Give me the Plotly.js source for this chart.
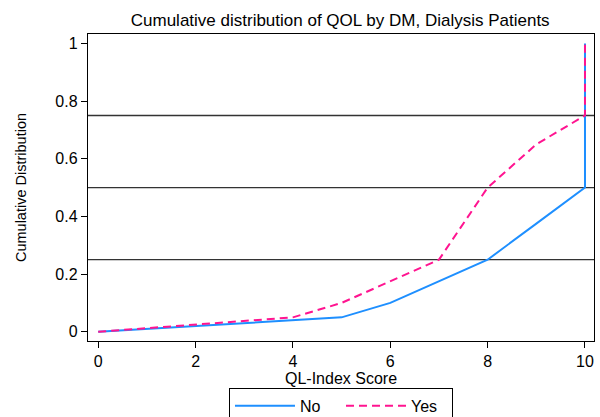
<!DOCTYPE html>
<html>
<head>
<meta charset="utf-8">
<script src="https://cdn.plot.ly/plotly-3.0.1.min.js"></script>
<style>html,body{margin:0;padding:0;background:#fff;}#chart{width:600px;height:417px;}</style>
</head>
<body>
<div id="chart"></div>
<script>
// Data
const qlScore = [0, 1, 2, 3, 4, 5, 6, 7, 8, 9, 10, 10];
const cumNo  = [0, 0.01, 0.02, 0.03, 0.04, 0.05, 0.10, 0.175, 0.25, 0.375, 0.50, 1.0];
const cumYes = [0, 0.0125, 0.025, 0.0375, 0.05, 0.10, 0.175, 0.25, 0.50, 0.65, 0.75, 1.0];
const seriesNames = ["No", "Yes"];
const refLines = [0.25, 0.5, 0.75];
const xTicks = [0, 2, 4, 6, 8, 10];
const yTicks = [0, 0.2, 0.4, 0.6, 0.8, 1];
const yTickLabels = ["0", "0.2", "0.4", "0.6", "0.8", "1"];

const font = {family: "Liberation Sans, Arial, sans-serif", color: "#000"};

const traces = [
  {x: qlScore, y: cumNo, name: seriesNames[0], type: "scatter", mode: "lines",
   line: {color: "#1E8FFF", width: 2}},
  {x: qlScore, y: cumYes, name: seriesNames[1], type: "scatter", mode: "lines",
   line: {color: "#FF1490", width: 2, dash: "8px,5px"}}
];

const shapes = refLines.map(v => ({
  type: "line", xref: "paper", x0: 0, x1: 1, yref: "y", y0: v, y1: v,
  line: {color: "#333", width: 1.3}, layer: "below"
}));

const layout = {
  width: 600, height: 417,
  margin: {l: 88, r: 6, t: 34, b: 76},
  paper_bgcolor: "#fff", plot_bgcolor: "#fff",
  font: Object.assign({size: 16}, font),
  title: {text: "Cumulative distribution of QOL by DM, Dialysis Patients",
          font: Object.assign({size: 17}, font), x: 0.567, xanchor: "center",
          yref: "container", y: 0.953, yanchor: "middle"},
  xaxis: {
    range: [-0.21, 10.185], tickvals: xTicks, ticks: "outside", ticklen: 6, tickcolor: "#000",
    showline: true, linecolor: "#000", linewidth: 1.2, mirror: true, showgrid: false, zeroline: false,
    tickfont: Object.assign({size: 16}, font), automargin: false,
    title: {text: "QL-Index Score", font: Object.assign({size: 16}, font), standoff: 0}
  },
  yaxis: {
    range: [-0.032, 1.0326], tickvals: yTicks, ticktext: yTickLabels, ticks: "outside", ticklen: 6, tickcolor: "#000",
    showline: true, linecolor: "#000", linewidth: 1.2, mirror: true, showgrid: false, zeroline: false,
    tickfont: Object.assign({size: 16}, font), automargin: false,
    title: {text: "Cumulative Distribution", font: Object.assign({size: 14.5}, font), standoff: 25}
  },
  shapes: shapes,
  showlegend: true,
  legend: {
    orientation: "h", xref: "container", x: 0.5683, xanchor: "center",
    yref: "container", y: 0.07, yanchor: "top",
    bordercolor: "#000", borderwidth: 1, bgcolor: "#fff",
    font: Object.assign({size: 16}, font), itemwidth: 60, tracegroupgap: 0,
    entrywidth: 36, entrywidthmode: "pixels"
  }
};

Plotly.newPlot("chart", traces, layout, {displayModeBar: false, staticPlot: true});
</script>
</body>
</html>
